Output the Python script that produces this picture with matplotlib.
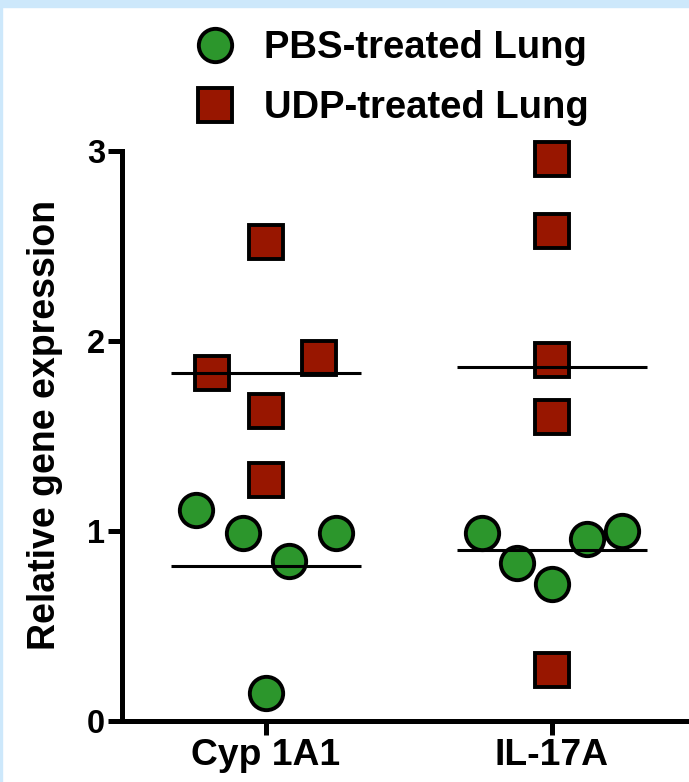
import numpy as np
import matplotlib.pyplot as plt
from matplotlib.lines import Line2D
from matplotlib.patches import Rectangle

# valores (expresion relativa)
genes = ["Cyp 1A1", "IL-17A"]
pbs_cyp = [1.11, 0.99, 0.84, 0.99, 0.15]
udp_cyp = [2.52, 1.83, 1.91, 1.63, 1.27]
pbs_il17 = [0.99, 0.83, 0.72, 0.96, 1.00]
udp_il17 = [2.96, 2.58, 1.90, 1.60, 0.27]

etiquetas = ["PBS-treated Lung", "UDP-treated Lung"]
yticks = [0, 1, 2, 3]

VERDE = "#2c962c"
ROJO = "#981600"

plt.rcParams["font.family"] = ["Liberation Sans", "DejaVu Sans"]
plt.rcParams["font.weight"] = "bold"


def enjambre(valores, umbral=0.19, mitad=0.245, paso_max=0.374):
    """Desplazamiento horizontal estilo 'column scatter': los puntos que se
    solapan en y se reparten en una fila, en el orden de los datos."""
    valores = np.asarray(valores, dtype=float)
    orden = np.argsort(valores)
    grupos, actual = [], [orden[0]]
    for a, b in zip(orden[:-1], orden[1:]):
        if valores[b] - valores[a] < umbral:
            actual.append(b)
        else:
            grupos.append(actual)
            actual = [b]
    grupos.append(actual)
    dx = np.zeros(len(valores))
    for g in grupos:
        n = len(g)
        if n < 2:
            continue
        paso = min(paso_max, 2 * mitad / (n - 1))
        for k, idx in enumerate(sorted(g)):
            dx[idx] = (k - (n - 1) / 2) * paso
    return dx


fig = plt.figure(figsize=(6.89, 7.82), dpi=100)
ax = fig.add_axes([122 / 689, 61 / 782, 567 / 689, 570 / 782])

series = [(pbs_cyp, udp_cyp), (pbs_il17, udp_il17)]
for i, (pbs, udp) in enumerate(series):
    for datos, marca, color, ms in [(pbs, "o", VERDE, 24), (udp, "s", ROJO, 25)]:
        x = i + enjambre(datos)
        ax.plot(x, datos, ls="none", marker=marca, ms=ms, mfc=color,
                mec="black", mew=2.8, clip_on=False, zorder=3)
        media = np.mean(datos)
        ax.plot([i - 0.332, i + 0.332], [media, media], color="black",
                lw=2.2, zorder=4, solid_capstyle="butt")

ax.set_xlim(-0.503, 1.479)
ax.set_ylim(0, 3)
ax.set_xticks(range(len(genes)))
ax.set_xticklabels(genes, fontsize=26.8, fontweight="bold")
ax.set_yticks(yticks)
ax.set_yticklabels([str(t) for t in yticks], fontsize=23.5, fontweight="bold")
ax.tick_params(axis="both", direction="out", length=10, width=3.6, pad=2)

for lado in ["top", "right"]:
    ax.spines[lado].set_visible(False)
for lado in ["left", "bottom"]:
    ax.spines[lado].set_linewidth(3.6)

ax.set_ylabel("Relative gene expression", fontsize=27, fontweight="bold", va="center")
ax.yaxis.set_label_coords(-0.136, 0.519)

manejadores = [
    Line2D([], [], ls="none", marker="o", ms=24, mfc=VERDE, mec="black", mew=2.8),
    Line2D([], [], ls="none", marker="s", ms=25, mfc=ROJO, mec="black", mew=2.8),
]
ax.legend(manejadores, etiquetas, loc="upper left",
          bbox_to_anchor=(196 / 689, 1 - 30 / 782), bbox_transform=fig.transFigure,
          frameon=False, fontsize=27.5, borderpad=0, borderaxespad=0,
          handlelength=1.0, handletextpad=0.79, labelspacing=0.63)

# marco azul claro de la captura
fig.add_artist(Rectangle((0, 1 - 7 / 782), 1, 7 / 782, transform=fig.transFigure,
                         color="#cde8fb", zorder=0))
fig.add_artist(Rectangle((0, 0), 2 / 689, 1, transform=fig.transFigure,
                         color="#cde8fb", zorder=0))

fig.savefig("out.png", dpi=100, facecolor="white")
